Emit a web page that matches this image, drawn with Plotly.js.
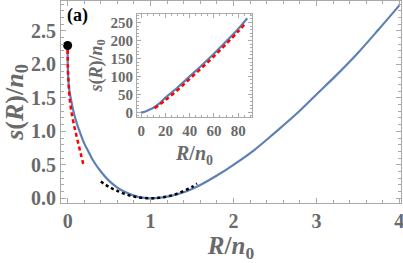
<!DOCTYPE html>
<html>
<head>
<meta charset="utf-8">
<script src="https://cdn.plot.ly/plotly-3.0.1.min.js"></script>
<style>html,body{margin:0;padding:0;background:#fff}#chart{width:403px;height:263px}</style>
</head>
<body>
<div id="chart"></div>
<script>
// Main panel: blue curve s(R)/n0
var mainR = [0, 0.005, 0.02, 0.04, 0.07, 0.1, 0.15, 0.2, 0.25, 0.3, 0.4, 0.5, 0.6, 0.7, 0.8, 0.9, 1.0, 1.2, 1.4, 1.6, 1.8, 2.0, 2.25, 2.5, 2.75, 3.0, 3.25, 3.5, 3.75, 4.0];
var mainS = [2.28, 1.85, 1.62, 1.48, 1.30, 1.16, 0.98, 0.82, 0.70, 0.58, 0.40, 0.26, 0.16, 0.09, 0.04, 0.01, 0, 0.025, 0.09, 0.20, 0.34, 0.50, 0.72, 0.98, 1.25, 1.55, 1.85, 2.17, 2.52, 2.88];
// Red dashed small-R asymptote
var redR = [0, 0.003, 0.01, 0.02, 0.035, 0.05, 0.07, 0.09, 0.115, 0.14, 0.165, 0.195];
var redS = [2.22, 1.95, 1.75, 1.55, 1.38, 1.26, 1.13, 1.02, 0.89, 0.76, 0.63, 0.48];
// Black dotted parabola near R = 1
var dotR = [0.4, 0.5, 0.6, 0.7, 0.8, 0.9, 1.0, 1.1, 1.2, 1.3, 1.4, 1.5, 1.56];
var dotS = [0.25, 0.17, 0.11, 0.06, 0.027, 0.007, 0, 0.007, 0.027, 0.06, 0.11, 0.17, 0.22];
// Black point at R = 0
var ptR = [0];
var ptS = [2.28];
// Inset: large-R behaviour
var insetR = [0, 1, 2, 4, 8, 10, 15, 20, 30, 40, 50, 60, 70, 80, 87.5];
var insetS = [2.3, 0, 0.5, 2.9, 9, 12.5, 25, 41, 69, 100, 131, 163, 197, 232, 262];
var insetRedR = [11, 20, 30, 40, 50, 60, 70, 80, 85];
var insetRedS = [11, 34, 62, 93, 124, 156, 190, 225, 244];
// Tick labels
var mainXTicks = [0, 1, 2, 3, 4];
var mainYTicks = [0, 0.5, 1.0, 1.5, 2.0, 2.5];
var insetXTicks = [0, 20, 40, 60, 80];
var insetYTicks = [0, 50, 100, 150, 200, 250];

var gray = '#6a6a6a';
var axCol = '#aaaaaa';
var serif = '"Liberation Serif", "Times New Roman", "DejaVu Serif", serif';
var blue = '#5e81b5';

var traces = [
  {x: mainR, y: mainS, mode: 'lines', line: {color: blue, width: 2.2, shape: 'spline'}, xaxis: 'x', yaxis: 'y'},
  {x: redR, y: redS, mode: 'lines', line: {color: '#ff0000', width: 2.5, dash: '4px,3px', shape: 'spline'}, xaxis: 'x', yaxis: 'y'},
  {x: dotR, y: dotS, mode: 'lines', line: {color: '#000000', width: 2.5, dash: 'dot', shape: 'spline'}, xaxis: 'x', yaxis: 'y'},
  {x: ptR, y: ptS, mode: 'markers', marker: {color: '#000', size: 9}, xaxis: 'x', yaxis: 'y', cliponaxis: false},
  {x: insetR, y: insetS, mode: 'lines', line: {color: blue, width: 2.2, shape: 'spline'}, xaxis: 'x2', yaxis: 'y2'},
  {x: insetRedR, y: insetRedS, mode: 'lines', line: {color: '#ff0000', width: 2.5, dash: '4px,3px', shape: 'spline'}, xaxis: 'x2', yaxis: 'y2'}
];

function axisCommon(extra) {
  var a = {
    showgrid: false, zeroline: false, showline: true, linecolor: axCol, linewidth: 1,
    mirror: 'allticks', ticks: 'inside', ticklen: 5, tickcolor: axCol, tickwidth: 1,
    tickfont: {family: serif, size: 20, color: gray, weight: 'bold'},
    ticklabeloverflow: 'allow',
    fixedrange: true
  };
  for (var k in extra) a[k] = extra[k];
  return a;
}

var layout = {
  width: 403, height: 263,
  margin: {l: 61, r: 2, t: 1, b: 60},
  paper_bgcolor: '#fff', plot_bgcolor: '#fff',
  showlegend: false,
  xaxis: axisCommon({
    domain: [0, 1], anchor: 'y', range: [-0.08, 4.02],
    tickmode: 'array', tickvals: mainXTicks, ticktext: mainXTicks.map(String),
    minor: {dtick: 0.2, ticklen: 3, tickcolor: axCol, ticks: 'inside'},
    title: {text: '<b><i>R</i>/<i>n</i><sub>0</sub></b>', font: {family: serif, size: 25, color: gray}, standoff: 8}
  }),
  yaxis: axisCommon({
    domain: [0, 1], anchor: 'x', range: [-0.07, 2.945],
    tickmode: 'array', tickvals: mainYTicks, ticktext: mainYTicks.map(function(v){return v.toFixed(1);}),
    minor: {dtick: 0.1, ticklen: 3, tickcolor: axCol, ticks: 'inside'},
    title: {text: '<b><i>s</i>(<i>R</i>)/<i>n</i><sub>0</sub></b>', font: {family: serif, size: 26, color: gray}, standoff: 2}
  }),
  xaxis2: axisCommon({
    domain: [0.2235, 0.562], anchor: 'y2', range: [-3.5, 91.5],
    tickmode: 'array', tickvals: insetXTicks, ticktext: insetXTicks.map(String),
    tickfont: {family: serif, size: 15, color: gray, weight: 'bold'},
    ticklen: 4,
    minor: {dtick: 5, ticklen: 2, tickcolor: axCol, ticks: 'inside'},
    title: {text: '<b><i>R</i>/<i>n</i><sub>0</sub></b>', font: {family: serif, size: 20, color: gray}, standoff: 8}
  }),
  yaxis2: axisCommon({
    domain: [0.426, 0.936], anchor: 'x2', range: [-13, 274],
    tickmode: 'array', tickvals: insetYTicks, ticktext: insetYTicks.map(String),
    tickfont: {family: serif, size: 15, color: gray, weight: 'bold'},
    ticklen: 4,
    minor: {dtick: 10, ticklen: 2, tickcolor: axCol, ticks: 'inside'},
    title: {text: '<b><i>s</i>(<i>R</i>)/<i>n</i><sub>0</sub></b>', font: {family: serif, size: 18, color: gray}, standoff: 3}
  }),
  annotations: [
    {text: '<b>(a)</b>', xref: 'paper', yref: 'paper', x: 0.012, y: 0.99, xanchor: 'left', yanchor: 'top',
     showarrow: false, font: {family: serif, size: 18, color: '#000'}}
  ]
};

Plotly.newPlot('chart', traces, layout, {staticPlot: true, displayModeBar: false});
</script>
</body>
</html>
